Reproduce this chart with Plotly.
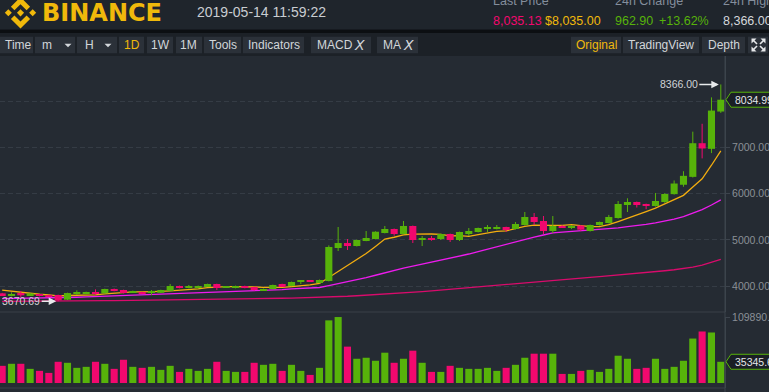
import pandas as pd
import plotly.graph_objects as go

# ---------------- data ----------------
dates = pd.date_range("2019-02-26", "2019-05-14", freq="D")

opens = [3841, 3805, 3848, 3798, 3827, 3805, 3805, 3704, 3845, 3827,
         3870, 3841, 3935, 3913, 3870, 3870, 3863, 3853, 3892, 4000,
         3970, 3957, 4000, 4043, 3970, 3957, 4000, 3978, 3913, 3935,
         4043, 4000, 4100, 4108, 4065, 4108, 4823, 4931, 4866, 4975,
         5018, 5148, 5235, 5126, 5300, 4996, 5040, 5018, 5126, 4996,
         5148, 5170, 5235, 5235, 5278, 5235, 5321, 5495, 5408, 5191,
         5300, 5278, 5310, 5191, 5321, 5365, 5473, 5754, 5820, 5776,
         5733, 5820, 5990, 6193, 6364, 7093, 6971, 7779]
highs = [3850, 3863, 3892, 3850, 3835, 3812, 3812, 3855, 3906, 3878,
         3928, 3942, 3945, 3920, 3900, 3875, 3913, 3920, 4043, 4008,
         4022, 4010, 4050, 4050, 3990, 4008, 4008, 3985, 3945, 4030,
         4050, 4095, 4130, 4115, 4140, 4880, 5278, 5018, 5005, 5191,
         5185, 5300, 5245, 5408, 5310, 5083, 5083, 5135, 5135, 5178,
         5256, 5265, 5321, 5321, 5285, 5386, 5603, 5581, 5516, 5516,
         5321, 5321, 5320, 5330, 5395, 5540, 5841, 5900, 5830, 5785,
         6015, 6010, 6286, 6486, 7343, 7514, 8086, 8366]
lows = [3790, 3776, 3755, 3790, 3775, 3770, 3670.69, 3695, 3805, 3820,
        3805, 3835, 3885, 3840, 3865, 3840, 3805, 3848, 3885, 3950,
        3950, 3950, 3990, 3913, 3960, 3950, 3950, 3900, 3905, 3928,
        3995, 3995, 4043, 4095, 4060, 4100, 4758, 4780, 4855, 4970,
        5010, 5140, 5090, 5120, 4931, 4866, 4980, 4996, 4953, 4975,
        5083, 5160, 5170, 5225, 5170, 5225, 5310, 5321, 5126, 5148,
        5256, 5235, 5190, 5180, 5310, 5355, 5460, 5603, 5700, 5664,
        5720, 5800, 5980, 6150, 6350, 6764, 6879, 7750]
closes = [3798, 3820, 3798, 3841, 3783, 3776, 3690, 3848, 3852, 3870,
          3827, 3935, 3892, 3848, 3892, 3848, 3870, 3913, 4000, 3957,
          3980, 4000, 4043, 3957, 3980, 4000, 3957, 3913, 3935, 4022,
          4000, 4087, 4108, 4100, 4130, 4845, 4931, 4888, 4996, 5040,
          5176, 5235, 5126, 5300, 4996, 5040, 5018, 5126, 4996, 5170,
          5191, 5256, 5256, 5278, 5213, 5343, 5495, 5386, 5191, 5300,
          5278, 5300, 5220, 5321, 5386, 5495, 5776, 5820, 5754, 5733,
          5841, 5993, 6220, 6386, 7093, 6979, 7800, 8034.99]
volumes = [28600, 32000, 32000, 23560, 20200, 16830, 35350, 33660, 25250, 26930,
           35350, 31980, 23560, 38710, 26930, 25250, 26930, 21880, 28610, 18510,
           23560, 20200, 23560, 35340, 20200, 18510, 18510, 33660, 30290, 31980,
           20200, 30290, 20200, 13460, 25250, 104350, 109890.1, 60590, 40390, 42080,
           37030, 50490, 33660, 40390, 53860, 33660, 18510, 18510, 28610, 25250,
           23560, 23560, 25250, 20200, 25250, 30290, 42080, 48810, 48810, 48810,
           15150, 15150, 20200, 21880, 18510, 23560, 45440, 40390, 23560, 25250,
           40390, 23560, 26930, 37030, 74050, 85830, 84150, 35345.6]
ma7 = [3910, 3885, 3860, 3840, 3822, 3805, 3787, 3794, 3798, 3809,
       3807, 3828, 3845, 3867, 3874, 3873, 3873, 3885, 3895, 3904,
       3923, 3938, 3966, 3979, 3988, 3988, 3988, 3979, 3969, 3966,
       3972, 3988, 4003, 4024, 4055, 4185, 4314, 4441, 4571, 4704,
       4858, 5016, 5056, 5109, 5124, 5130, 5127, 5120, 5086, 5092,
       5077, 5114, 5145, 5182, 5194, 5244, 5290, 5318, 5309, 5315,
       5315, 5328, 5310, 5285, 5285, 5329, 5397, 5474, 5539, 5612,
       5686, 5773, 5877, 5964, 6146, 6321, 6616, 6929]
ma25 = [3728, 3730, 3733, 3736, 3739, 3742, 3745, 3751, 3757, 3764,
        3771, 3779, 3787, 3795, 3802, 3809, 3817, 3825, 3834, 3842,
        3850, 3858, 3866, 3874, 3881, 3889, 3894, 3899, 3903, 3912,
        3921, 3937, 3947, 3957, 3968, 4008, 4048, 4088, 4134, 4180,
        4233, 4288, 4336, 4388, 4430, 4472, 4513, 4556, 4598, 4645,
        4693, 4745, 4799, 4852, 4900, 4954, 5010, 5061, 5105, 5152,
        5169, 5184, 5197, 5210, 5224, 5237, 5258, 5286, 5304, 5334,
        5366, 5405, 5448, 5504, 5581, 5653, 5754, 5865]
ma99 = [3668, 3668, 3669, 3670, 3671, 3672, 3673, 3675, 3677, 3679,
        3681, 3683, 3685, 3687, 3689, 3691, 3693, 3696, 3699, 3702,
        3705, 3708, 3711, 3714, 3717, 3720, 3723, 3726, 3729, 3732,
        3735, 3739, 3743, 3747, 3751, 3758, 3768, 3778, 3789, 3800,
        3812, 3824, 3838, 3852, 3866, 3880, 3895, 3912, 3930, 3950,
        3970, 3990, 4010, 4030, 4048, 4064, 4080, 4096, 4112, 4127,
        4142, 4157, 4172, 4187, 4202, 4218, 4235, 4252, 4270, 4289,
        4309, 4330, 4352, 4376, 4408, 4450, 4510, 4575]

price_ticks = [4000, 5000, 6000, 7000, 8000]
price_ticktext = ["4000.00", "5000.00", "6000.00", "7000.00", ""]  # 8000 hidden under last-price box
vol_ticks = [109890.1]

# ---------------- styling ----------------
W, H = 769, 392
ML, MR, MT, MB = 0, 44, 56, 4
PW, PH = W - ML - MR, H - MT - MB
FONT = "Liberation Sans, Arial, sans-serif"

BG = "#252b33"
HEAD = "#1f252c"
TOOL = "#1c2127"
BTN = "#2b3139"
GRID = "#353c45"
AXIS = "#3d444d"
AXTXT = "#8a9096"
UP = "#57b30a"
DN = "#f2086e"
YEL = "#f0b90b"


def fx(px):
    return (px - ML) / PW


def fy(py):
    return (H - MB - py) / PH


DAY = 86400000
PRICE_RANGE = [3437, 8982]
VOL_RANGE = [-8330, 109950]

cols = [UP if c >= o else DN for o, c in zip(opens, closes)]
min_body = 22
body_base = [min(o, c) for o, c in zip(opens, closes)]
body_h = [max(abs(c - o), min_body) for o, c in zip(opens, closes)]

fig = go.Figure()

# moving averages (drawn under candles)
for ser, colr in [(ma99, "#d90b6c"), (ma25, "#ee1bee"), (ma7, "#f3ad0f")]:
    fig.add_trace(go.Scatter(x=dates, y=ser, mode="lines",
                             line=dict(color=colr, width=1.3), hoverinfo="skip"))

# wicks
for colr in (UP, DN):
    xs, ys = [], []
    for d, h, l, c in zip(dates, highs, lows, cols):
        if c == colr:
            xs += [d, d, None]
            ys += [l, h, None]
    fig.add_trace(go.Scatter(x=xs, y=ys, mode="lines", yaxis="y3",
                             line=dict(color=colr, width=1), hoverinfo="skip"))

# bodies
fig.add_trace(go.Bar(x=dates, y=body_h, base=body_base, yaxis="y3",
                     width=0.76 * DAY, marker=dict(color=cols, line=dict(width=0))))

# volume
fig.add_trace(go.Bar(x=dates, y=volumes, yaxis="y2", width=0.76 * DAY,
                     marker=dict(color=cols, line=dict(width=0))))

x0 = dates[0] - pd.Timedelta(days=0.2325)
x1 = dates[0] + pd.Timedelta(days=77.45)

shapes = []
ann = []


def rect(a, b, c, d, color, layer="above"):
    shapes.append(dict(type="rect", xref="paper", yref="paper", x0=fx(a), x1=fx(c),
                       y0=fy(d), y1=fy(b), fillcolor=color, line=dict(width=0), layer=layer))


def txt(s, x, y, color, size=12, anchor="left", family=FONT):
    ann.append(dict(text=s, x=fx(x), y=fy(y), xref="paper", yref="paper",
                    xanchor=anchor, yanchor="middle", showarrow=False,
                    font=dict(color=color, size=size, family=family)))


def poly(pts, color):
    p = "M " + " L ".join(f"{fx(a):.5f},{fy(b):.5f}" for a, b in pts) + " Z"
    shapes.append(dict(type="path", xref="paper", yref="paper", path=p,
                       fillcolor=color, line=dict(width=0), layer="above"))


# header
rect(0, 0, W, 29.5, HEAD)
rect(0, 29.5, W, 33, "#0c0f12")
rect(0, 33, W, 56, TOOL)

# logo
LOGO = [
    [(-25.27, -10.8), (0, -36.07), (25.28, -10.79), (39.98, -25.49), (0, -65.47), (-39.98, -25.5)],
    [(-25.27, 10.8), (0, 36.07), (25.28, 10.79), (39.98, 25.49), (0, 65.47), (-39.98, 25.5)],
    [(-65.47, 0), (-50.77, -14.7), (-36.07, 0), (-50.77, 14.7)],
    [(65.47, 0), (50.77, -14.7), (36.07, 0), (50.77, 14.7)],
    [(14.9, 0), (0, -14.9), (-14.9, 0), (0, 14.9)],
]
for part in LOGO:
    poly([(20.5 + u * 0.24, 12.8 + v * 0.24) for u, v in part], YEL)

ann.append(dict(text="<b>BINANCE</b>", x=fx(40), y=fy(13.5), xref="paper", yref="paper",
                xanchor="left", yanchor="middle", showarrow=False,
                font=dict(color=YEL, size=24, family="DejaVu Sans")))
txt("2019-05-14 11:59:22", 195, 12.5, "#c9cdd2", 14)

txt("Last Price", 491, 1, "#848e9c", 12.5)
txt("24h Change", 613, 1, "#848e9c", 12.5)
txt("24h High", 721, 1, "#848e9c", 12.5)
txt("8,035.13", 491, 20.5, DN, 12.5)
txt("$8,035.00", 543, 20.5, YEL, 12.5)
txt("962.90", 613, 20.5, UP, 12.5)
txt("+13.62%", 657, 20.5, UP, 12.5)
txt("8,366.00", 721, 20.5, "#d5d8dc", 12.5)

# toolbar
buttons = [("Time", 0, 33, 3), ("m", 35, 75, 40), ("H", 77, 117, 83), ("1D", 119, 144, None),
           ("1W", 147, 173, None), ("1M", 176, 202, None), ("Tools", 204, 241, None),
           ("Indicators", 243, 304, None), ("MACD", 311, 371, 315), ("MA", 377, 418, 381),
           ("Original", 571, 621, None), ("TradingView", 623, 699, None),
           ("Depth", 702, 745, None), ("", 748, 768, None)]
BY0, BY1, BYC = 36.7, 53.3, 45.2
TB = "#d2d6da"
for lab, a, b, lx in buttons:
    rect(a, BY0, b, BY1, BTN)
    colr = YEL if lab in ("1D", "Original") else TB
    if not lab:
        continue
    if lx is None:
        txt(lab, (a + b) / 2, BYC, colr, 12, "center")
    else:
        txt(lab, lx, BYC, colr, 12)
for cx in (68, 108):
    poly([(cx - 3.5, BYC - 1.5), (cx + 3.5, BYC - 1.5), (cx, BYC + 2)], TB)
txt("<i>X</i>", 359, BYC, TB, 14, "center", "DejaVu Sans")
txt("<i>X</i>", 408.5, BYC, TB, 14, "center", "DejaVu Sans")

# fullscreen icon
fcx, fcy = 758.5, 45
for sx in (-1, 1):
    for sy in (-1, 1):
        cxp, cyp = fcx + sx * 7, fcy + sy * 6.5
        poly([(cxp, cyp), (cxp - sx * 5, cyp), (cxp, cyp - sy * 5)], "#e6e8ea")
        shapes.append(dict(type="line", xref="paper", yref="paper",
                           x0=fx(cxp - sx * 2), y0=fy(cyp - sy * 2),
                           x1=fx(cxp - sx * 5.5), y1=fy(cyp - sy * 5.5),
                           line=dict(color="#e6e8ea", width=1.6), layer="above"))

# panel separators and axis line
for yy, cc in ((312, "#3a4048"), (388, "#3a4048")):
    shapes.append(dict(type="line", xref="paper", yref="paper", x0=0, x1=1,
                       y0=fy(yy), y1=fy(yy), line=dict(color=cc, width=1), layer="below"))
shapes.append(dict(type="line", xref="paper", yref="paper", x0=1, x1=1,
                   y0=fy(H), y1=fy(MT), line=dict(color=AXIS, width=1), layer="above"))

# last-price boxes
ppx = (312 - MT) / (PRICE_RANGE[1] - PRICE_RANGE[0])
vpx = (388 - 317) / (VOL_RANGE[1] - VOL_RANGE[0])
for val, yref, scale, label in ((closes[-1], "y", ppx, f"{closes[-1]:.2f}"),
                                (volumes[-1], "y2", vpx, f"{volumes[-1]:.1f}")):
    h = 7.5 / scale
    path = (f"M {fx(726)},{val} L {fx(731)},{val + h} L {fx(770)},{val + h} "
            f"L {fx(770)},{val - h} L {fx(731)},{val - h} Z")
    shapes.append(dict(type="path", xref="paper", yref=yref, path=path,
                       fillcolor="#1a1f25", line=dict(color=UP, width=1), layer="above"))
    ann.append(dict(text=label, x=fx(733), y=val, xref="paper", yref=yref,
                    xanchor="left", yanchor="middle", showarrow=False,
                    font=dict(color="#e4e6e9", size=10.5, family=FONT)))

# high / low markers
ann.append(dict(text=f"{highs[-1]:.2f}", x=dates[-1], y=highs[-1], xref="x", yref="y",
                ax=-42, ay=0, showarrow=True, arrowhead=2, arrowsize=1, arrowwidth=1.5,
                arrowcolor="#e8eaec", standoff=2,
                font=dict(color="#d0d3d7", size=10.5, family=FONT)))
lo_i = lows.index(min(lows))
ann.append(dict(text=f"{lows[lo_i]:.2f}", x=dates[lo_i], y=lows[lo_i], xref="x", yref="y",
                ax=-37, ay=0, showarrow=True, arrowhead=2, arrowsize=1, arrowwidth=1.5,
                arrowcolor="#e8eaec", standoff=2,
                font=dict(color="#d0d3d7", size=10.5, family=FONT)))

fig.update_layout(
    template="none",
    width=W, height=H,
    margin=dict(l=ML, r=MR, t=MT, b=MB, pad=0),
    paper_bgcolor=BG, plot_bgcolor=BG,
    showlegend=False, barmode="overlay",
    shapes=shapes, annotations=ann,
    xaxis=dict(type="date", range=[x0, x1], showgrid=False, zeroline=False,
               showticklabels=False, showline=False, ticks="", automargin=False),
    yaxis=dict(domain=[fy(312), 1], range=PRICE_RANGE, side="right",
               tickvals=price_ticks, ticktext=price_ticktext, showgrid=True, gridcolor=GRID,
               griddash="5px,3px", gridwidth=1, zeroline=False, showline=True,
               linecolor=AXIS, ticks="outside", ticklen=4, tickcolor=AXIS,
               tickfont=dict(size=10.5, color=AXTXT, family=FONT), automargin=False),
    yaxis3=dict(overlaying="y", matches="y", range=PRICE_RANGE, visible=False,
                showgrid=False, zeroline=False),
    yaxis2=dict(domain=[0, fy(317)], range=VOL_RANGE, side="right",
                tickvals=vol_ticks, tickformat=".1f", showgrid=True, gridcolor=GRID,
                zeroline=False, showline=True, linecolor=AXIS, ticks="outside",
                ticklen=4, tickcolor=AXIS,
                tickfont=dict(size=10.5, color=AXTXT, family=FONT), automargin=False),
)

fig.write_html(
    "out.html",
    config={"displayModeBar": False},
    post_script="document.body.style.margin='0';document.body.style.padding='0';"
                "document.body.style.overflow='hidden';document.body.style.background='" + BG + "';",
)
